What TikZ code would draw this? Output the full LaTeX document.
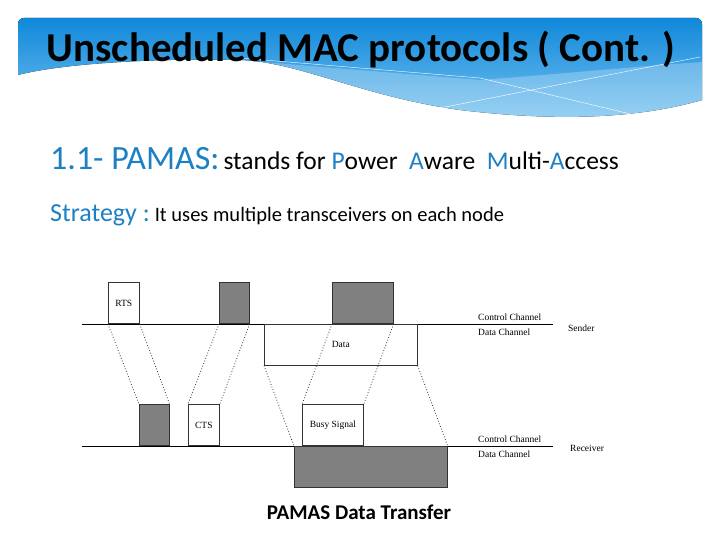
\documentclass[tikz,border=0pt]{standalone}
\usepackage{fontspec}
\setmainfont{Carlito}
\newfontfamily\diagfont{Liberation Serif}
\usetikzlibrary{positioning}

\definecolor{hlblue}{RGB}{30,128,196}
\definecolor{bandtop}{RGB}{16,136,218}
\definecolor{bandlow}{RGB}{120,195,240}
\definecolor{slotgrey}{RGB}{128,128,128}

\tikzset{
  slot/.style={draw=black!80, line width=0.7pt, minimum width=#1, minimum height=41pt,
    inner sep=0pt, font=\diagfont\fontsize{9.5}{10}\selectfont},
  busy/.style={slot=#1, fill=slotgrey},
  chan/.style={line width=0.8pt},
  sig/.style={dotted, line width=0.8pt, black!80},
  lbl/.style={font=\diagfont\fontsize{9.5}{11}\selectfont, inner sep=1pt},
}

\begin{document}
\begin{tikzpicture}[x=1pt,y=-1pt]
    \useasboundingbox (0,0) rectangle (720,540);

    % banner
    \fill[top color=bandtop, bottom color=bandlow]
      (18,75) [rounded corners=6pt] -- (18,18) -- (702,18) [sharp corners] -- (702,100)
      .. controls (640,118) and (560,122) .. (460,110)
      .. controls (360,96) and (300,62) .. (240,60)
      .. controls (150,58) and (60,64) .. (18,75) -- cycle;
    \fill[white, opacity=0.25]
      (240,60) -- (480,80) .. controls (560,74) and (640,66) .. (702,62) -- (702,100)
      .. controls (640,118) and (560,122) .. (460,110)
      .. controls (360,96) and (300,62) .. (240,60) -- cycle;
    \draw[white, line width=0.4pt] (240,58) -- (480,78) -- (643,117);
    \draw[white, line width=0.4pt] (440,108) -- (700,57);

    \node (title) [anchor=base, inner sep=0pt] at (361,62)
      {\fontsize{41}{46}\selectfont\bfseries Unscheduled MAC protocols ( Cont. )};

    \node (pamas) [anchor=base west, inner sep=0pt] at (50,170)
      {{\fontsize{34}{38}\selectfont\color{hlblue}1.1- PAMAS:}\hspace{4pt}\fontsize{25.5}{28}\selectfont stands for
       \textcolor{hlblue}{P}ower\ \ \textcolor{hlblue}{A}ware\ \ \textcolor{hlblue}{M}ulti-\textcolor{hlblue}{A}ccess};
    \node (strat) [anchor=base west, inner sep=0pt] at (50,222)
      {{\fontsize{26}{28}\selectfont\color{hlblue}Strategy :}\hspace{5pt}\fontsize{20.5}{24}\selectfont It uses multiple transceivers on each node};

    % channels
    \coordinate (s0) at (82,324);
    \coordinate (s1) at (553,324);
    \coordinate (r0) at (82,446);
    \coordinate (r1) at (553,446);
    \draw[chan] (s0) -- (s1);
    \draw[chan] (r0) -- (r1);

    % sender side
    \node (rts) [slot=31pt, anchor=south west] at (108,324) {RTS};
    \node (sg1) [busy=30pt, anchor=south west] at (219,324) {};
    \node (sg2) [busy=61pt, anchor=south west] at (332,324) {};
    \node (data) [slot=153pt, anchor=north west] at (264,324) {Data};

    % receiver side
    \node (rg1) [busy=30pt, anchor=south west] at (139,446) {};
    \node (cts) [slot=31pt, anchor=south west] at (188,446) {CTS};
    \node (bsy) [slot=61pt, anchor=south west] at (302,446) {Busy Signal};
    \node (rdata) [busy=153pt, anchor=north west] at (294,446) {};

    \path[draw,sig]
    (rts.south west) -- (rg1.north west)
    (rts.south east) -- (rg1.north east)
    (sg1.south west) -- (cts.north west)
    (sg1.south east) -- (cts.north east)
    (sg2.south west) -- (bsy.north west)
    (sg2.south east) -- (bsy.north east)
    (data.south west) -- (rdata.north west)
    (data.south east) -- (rdata.north east)
    ;

    % channel labels
    \node (sctl) [lbl, anchor=south west] at (477,322) {Control Channel};
    \node (sdat) [lbl, anchor=north west] at (477,328) {Data Channel};
    \node (snd) [lbl, anchor=west, right=14pt of s1, yshift=-4pt] {Sender};
    \node (rctl) [lbl, anchor=south west] at (477,444) {Control Channel};
    \node (rdat) [lbl, anchor=north west] at (477,450) {Data Channel};
    \node (rcv) [lbl, anchor=west, right=16pt of r1, yshift=-2pt] {Receiver};

    \node (cap) [anchor=base, inner sep=0pt, font=\fontsize{21}{24}\selectfont\bfseries] at (359,519) {PAMAS Data Transfer};
\end{tikzpicture}
\end{document}
